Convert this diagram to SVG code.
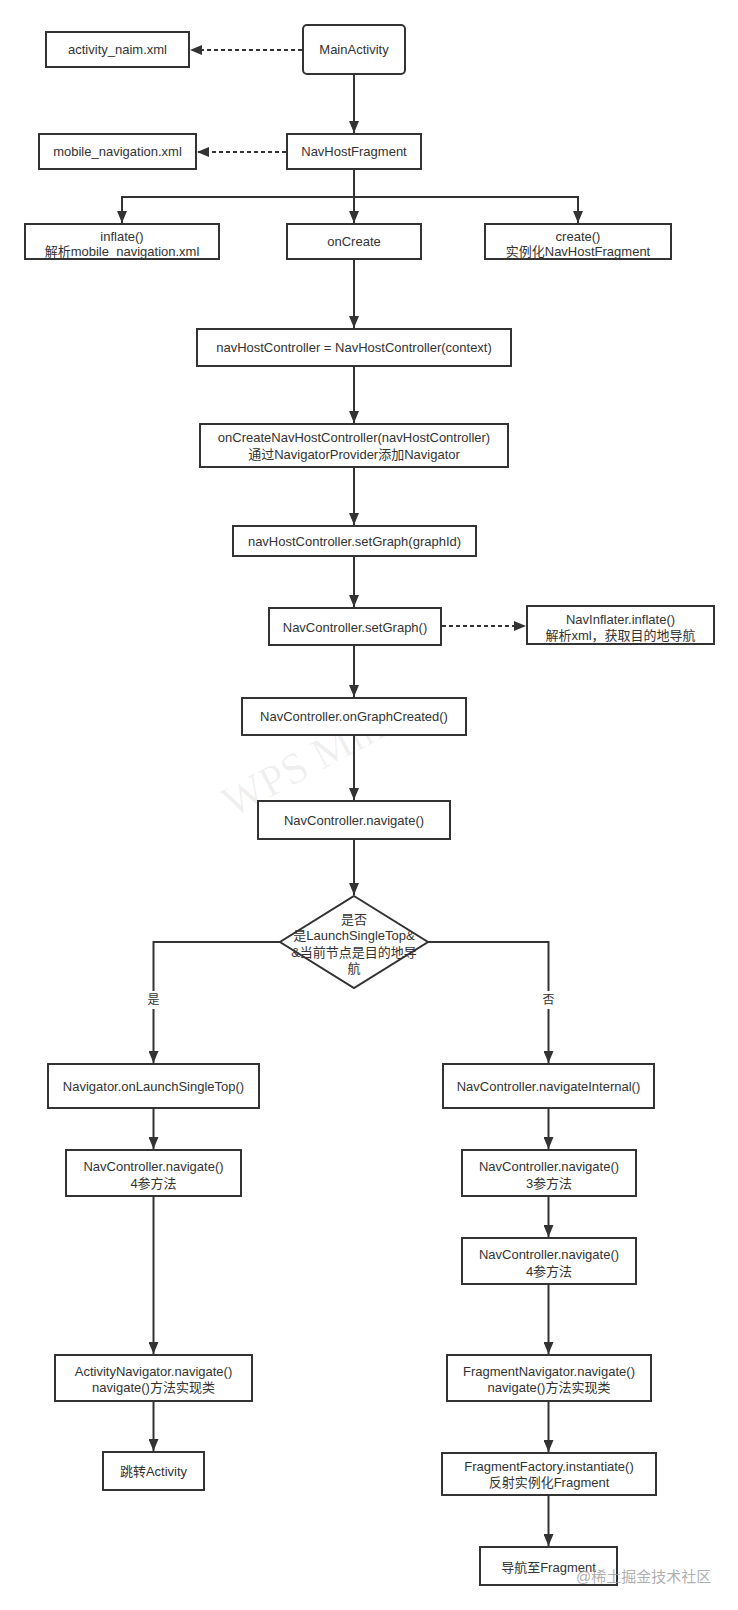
<svg xmlns="http://www.w3.org/2000/svg" width="738" height="1610" viewBox="0 0 738 1610">
<style>
.box{fill:#fff;stroke:#333;stroke-width:2}
.t{font-family:"Liberation Sans","Noto Sans CJK SC",sans-serif;font-size:13px;fill:#333;text-anchor:middle;dominant-baseline:central}
.lbl{font-family:"Liberation Sans","Noto Sans CJK SC",sans-serif;font-size:12px;fill:#333;text-anchor:middle;dominant-baseline:central}
.e{fill:none;stroke:#333;stroke-width:2}
.d{stroke-dasharray:4 3}
.wm{font-family:"Liberation Serif",serif;font-size:44px;fill:#000;fill-opacity:0.06}
.wm2{font-family:"Liberation Sans","Noto Sans CJK SC",sans-serif;font-size:15px;fill:#999;fill-opacity:0.8}
</style>
<defs>
<marker id="arr" markerWidth="12" markerHeight="10" refX="12" refY="5" orient="auto" markerUnits="userSpaceOnUse"><path d="M0,0 L12,5 L0,10 z" fill="#333"/></marker>
</defs>
<rect width="738" height="1610" fill="#fff"/>
<text class="wm" transform="translate(232,818) rotate(-28)">WPS Mind</text>
<g id="connectors">
<path class="e" d="M354,74 V133" marker-end="url(#arr)"/>
<path class="e d" d="M302,50 H190" marker-end="url(#arr)"/>
<path class="e d" d="M286,152 H197" marker-end="url(#arr)"/>
<path class="e" d="M354,169 V223" marker-end="url(#arr)"/>
<path class="e" d="M354,197 H122 V223" marker-end="url(#arr)"/>
<path class="e" d="M354,197 H578 V223" marker-end="url(#arr)"/>
<path class="e" d="M354,259 V328" marker-end="url(#arr)"/>
<path class="e" d="M354,366 V423" marker-end="url(#arr)"/>
<path class="e" d="M354,467 V525" marker-end="url(#arr)"/>
<path class="e" d="M354,556 V607" marker-end="url(#arr)"/>
<path class="e d" d="M442,626 H526" marker-end="url(#arr)"/>
<path class="e" d="M354,645 V697" marker-end="url(#arr)"/>
<path class="e" d="M354,735 V800" marker-end="url(#arr)"/>
<path class="e" d="M354,839 V895" marker-end="url(#arr)"/>
<path class="e" d="M280,942 H153.5 V1063" marker-end="url(#arr)"/>
<path class="e" d="M428,942 H548.5 V1063" marker-end="url(#arr)"/>
<path class="e" d="M153.5,1108 V1149" marker-end="url(#arr)"/>
<path class="e" d="M153.5,1196 V1354" marker-end="url(#arr)"/>
<path class="e" d="M153.5,1401 V1451" marker-end="url(#arr)"/>
<path class="e" d="M548.5,1108 V1149" marker-end="url(#arr)"/>
<path class="e" d="M548.5,1196 V1237" marker-end="url(#arr)"/>
<path class="e" d="M548.5,1284 V1354" marker-end="url(#arr)"/>
<path class="e" d="M548.5,1401 V1452" marker-end="url(#arr)"/>
<path class="e" d="M548.5,1495 V1546" marker-end="url(#arr)"/>
<rect x="146" y="991" width="15" height="18" fill="#fff"/>
<text class="lbl" x="153.5" y="1000">是</text>
<rect x="541" y="991" width="15" height="18" fill="#fff"/>
<text class="lbl" x="548.5" y="1000">否</text>
</g>
<g id="n-activity-xml"><rect class="box" x="46" y="32" width="143" height="35"/><text class="t" x="117.5" y="49.5">activity_naim.xml</text></g>
<g id="n-main"><rect class="box" x="303" y="25" width="102" height="49" rx="4"/><text class="t" x="354" y="49.5">MainActivity</text></g>
<g id="n-mobile-xml"><rect class="box" x="39" y="134" width="157" height="35"/><text class="t" x="117.5" y="151.5">mobile_navigation.xml</text></g>
<g id="n-navhost"><rect class="box" x="287" y="134" width="134" height="35"/><text class="t" x="354" y="151.5">NavHostFragment</text></g>
<g id="n-inflate"><rect class="box" x="25" y="224" width="194" height="35"/><text class="t" x="122" y="236">inflate()</text><text class="t" x="122" y="251">解析mobile_navigation.xml</text></g>
<g id="n-oncreate"><rect class="box" x="287" y="224" width="134" height="35"/><text class="t" x="354" y="241.5">onCreate</text></g>
<g id="n-create"><rect class="box" x="485" y="224" width="186" height="35"/><text class="t" x="578" y="236">create()</text><text class="t" x="578" y="251">实例化NavHostFragment</text></g>
<g id="n-controller"><rect class="box" x="197" y="329" width="314" height="37"/><text class="t" x="354" y="347.5">navHostController = NavHostController(context)</text></g>
<g id="n-oncreatenav"><rect class="box" x="200" y="424" width="308" height="43"/><text class="t" x="354" y="437.5">onCreateNavHostController(navHostController)</text><text class="t" x="354" y="454">通过NavigatorProvider添加Navigator</text></g>
<g id="n-setgraphid"><rect class="box" x="233" y="526" width="243" height="30"/><text class="t" x="354.5" y="541">navHostController.setGraph(graphId)</text></g>
<g id="n-setgraph"><rect class="box" x="269" y="608" width="172" height="37"/><text class="t" x="355" y="627">NavController.setGraph()</text></g>
<g id="n-navinflater"><rect class="box" x="527" y="606" width="187" height="38"/><text class="t" x="620.5" y="619">NavInflater.inflate()</text><text class="t" x="620.5" y="635">解析xml，获取目的地导航</text></g>
<g id="n-ongraph"><rect class="box" x="242" y="698" width="224" height="37"/><text class="t" x="354" y="716.5">NavController.onGraphCreated()</text></g>
<g id="n-navigate"><rect class="box" x="258" y="801" width="192" height="38"/><text class="t" x="354" y="820">NavController.navigate()</text></g>
<g id="n-decision"><polygon class="box" points="354,896 428,942 354,988 280,942"/><text class="t" x="354" y="919">是否</text><text class="t" x="354" y="935.5">是LaunchSingleTop&amp;</text><text class="t" x="354" y="952">&amp;当前节点是目的地导</text><text class="t" x="354" y="968">航</text></g>
<g id="n-singletop"><rect class="box" x="48" y="1064" width="211" height="44"/><text class="t" x="153.5" y="1086">Navigator.onLaunchSingleTop()</text></g>
<g id="n-nav4-left"><rect class="box" x="66" y="1150" width="175" height="46"/><text class="t" x="153.5" y="1166">NavController.navigate()</text><text class="t" x="153.5" y="1183">4参方法</text></g>
<g id="n-activitynav"><rect class="box" x="55" y="1355" width="197" height="46"/><text class="t" x="153.5" y="1371">ActivityNavigator.navigate()</text><text class="t" x="153.5" y="1387">navigate()方法实现类</text></g>
<g id="n-jump"><rect class="box" x="103" y="1452" width="101" height="38"/><text class="t" x="153.5" y="1471">跳转Activity</text></g>
<g id="n-internal"><rect class="box" x="443" y="1064" width="211" height="44"/><text class="t" x="548.5" y="1086">NavController.navigateInternal()</text></g>
<g id="n-nav3"><rect class="box" x="462" y="1150" width="174" height="46"/><text class="t" x="549" y="1166">NavController.navigate()</text><text class="t" x="549" y="1183">3参方法</text></g>
<g id="n-nav4-right"><rect class="box" x="462" y="1238" width="174" height="46"/><text class="t" x="549" y="1254">NavController.navigate()</text><text class="t" x="549" y="1271">4参方法</text></g>
<g id="n-fragnav"><rect class="box" x="447" y="1355" width="204" height="46"/><text class="t" x="549" y="1371.5">FragmentNavigator.navigate()</text><text class="t" x="549" y="1387.5">navigate()方法实现类</text></g>
<g id="n-factory"><rect class="box" x="442" y="1453" width="214" height="42"/><text class="t" x="549" y="1466.5">FragmentFactory.instantiate()</text><text class="t" x="549" y="1482.5">反射实例化Fragment</text></g>
<g id="n-tofragment"><rect class="box" x="480" y="1547" width="137" height="38"/><text class="t" x="548.5" y="1567">导航至Fragment</text></g>
<text class="wm2" x="576" y="1582">@稀土掘金技术社区</text>
</svg>
